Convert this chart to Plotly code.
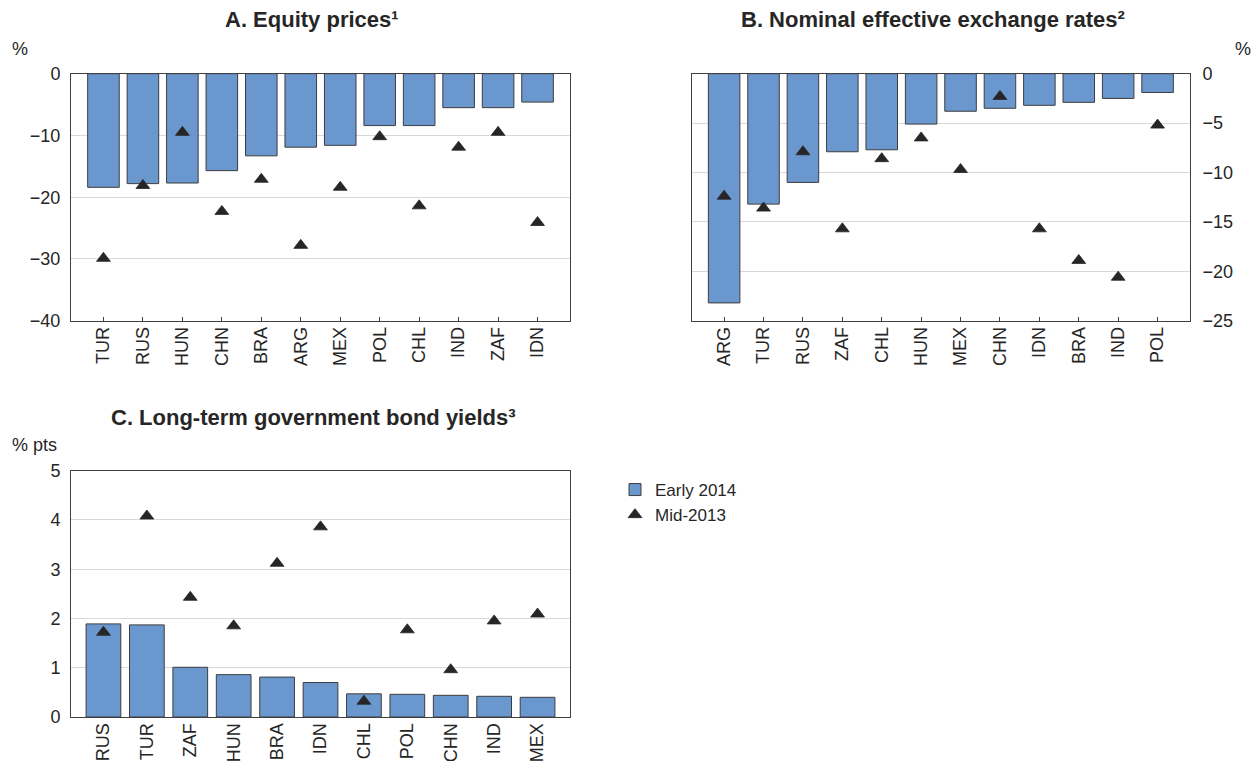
import plotly.graph_objects as go

# ---------------- data ----------------
A_cats = ['TUR', 'RUS', 'HUN', 'CHN', 'BRA', 'ARG', 'MEX', 'POL', 'CHL', 'IND', 'ZAF', 'IDN']
A_early = [-18.4, -17.8, -17.7, -15.7, -13.3, -11.9, -11.6, -8.4, -8.4, -5.5, -5.5, -4.6]
A_mid = [-29.9, -18.1, -9.5, -22.3, -17.1, -27.8, -18.4, -10.2, -21.4, -11.9, -9.5, -24.1]

B_cats = ['ARG', 'TUR', 'RUS', 'ZAF', 'CHL', 'HUN', 'MEX', 'CHN', 'IDN', 'BRA', 'IND', 'POL']
B_early = [-23.2, -13.2, -11.0, -7.9, -7.7, -5.1, -3.8, -3.5, -3.2, -2.9, -2.5, -1.9]
B_mid = [-12.4, -13.6, -7.9, -15.7, -8.6, -6.5, -9.7, -2.3, -15.7, -18.9, -20.6, -5.2]

C_cats = ['RUS', 'TUR', 'ZAF', 'HUN', 'BRA', 'IDN', 'CHL', 'POL', 'CHN', 'IND', 'MEX']
C_early = [1.89, 1.87, 1.01, 0.86, 0.81, 0.70, 0.47, 0.46, 0.44, 0.42, 0.40]
C_mid = [1.72, 4.08, 2.43, 1.85, 3.12, 3.86, 0.32, 1.77, 0.96, 1.95, 2.09]

titles = ['A. Equity prices¹', 'B. Nominal effective exchange rates²', 'C. Long-term government bond yields³']
units = ['%', '%', '% pts']
series_names = ['Early 2014', 'Mid-2013']

# ---------------- style ----------------
W, H = 1260, 761
FONT = 'Liberation Sans, Arial, Helvetica, sans-serif'
TXT = '#262626'
BAR = '#6b97cf'
EDGE = '#3d3d3d'
TRI = '#262626'
GRID = '#d9d9d9'


def px(x):
    return x / W


def py(y):
    return 1 - y / H


fig = go.Figure()

panels = [
    (A_cats, A_early, A_mid, 'x', 'y'),
    (B_cats, B_early, B_mid, 'x2', 'y2'),
    (C_cats, C_early, C_mid, 'x3', 'y3'),
]
for i, (cats, early, mid, xa, ya) in enumerate(panels):
    fig.add_trace(go.Bar(
        x=cats, y=early, xaxis=xa, yaxis=ya, name=series_names[0],
        marker=dict(color=BAR, line=dict(color=EDGE, width=1)),
        showlegend=(i == 0), legendgroup='early', hoverinfo='x+y'))
for i, (cats, early, mid, xa, ya) in enumerate(panels):
    fig.add_trace(go.Scatter(
        x=cats, y=mid, xaxis=xa, yaxis=ya, name=series_names[1], mode='markers',
        marker=dict(symbol='triangle-up', size=12, color=TRI, line=dict(color=TRI, width=0.8)),
        showlegend=(i == 0), legendgroup='mid', hoverinfo='x+y'))

xcommon = dict(type='category', showgrid=False, ticks='inside', ticklen=4, tickcolor='#404040',
               tickwidth=1, tickangle=-90, showline=True, linecolor='#404040', linewidth=1,
               mirror=True, zeroline=False, layer='below traces', automargin=False,
               tickfont=dict(family=FONT, size=18, color=TXT), ticklabelstandoff=-2)
ycommon = dict(showgrid=True, gridcolor=GRID, gridwidth=1, ticks='', showline=True,
               linecolor='#404040', linewidth=1, mirror=True, zeroline=False, automargin=False,
               layer='below traces', tickfont=dict(family=FONT, size=18, color=TXT))

A_x = [px(71), px(570)]
B_x = [px(691.7), px(1190)]
top_y = [py(320.7), py(73.7)]
C_y = [py(717), py(470.7)]

fig.update_layout(
    xaxis=dict(domain=A_x, anchor='y', **xcommon),
    yaxis=dict(domain=top_y, anchor='x', range=[-40, 0], dtick=10, side='left',
               ticklabelstandoff=6, **ycommon),
    xaxis2=dict(domain=B_x, anchor='y2', **xcommon),
    yaxis2=dict(domain=top_y, anchor='x2', range=[-25, 0], dtick=5, side='right',
                ticklabelstandoff=8, **ycommon),
    xaxis3=dict(domain=A_x, anchor='y3', **xcommon),
    yaxis3=dict(domain=C_y, anchor='x3', range=[0, 5], dtick=1, side='left',
                ticklabelstandoff=6, **ycommon),
    bargap=0.2,
    width=W, height=H,
    margin=dict(l=0, r=0, t=0, b=0, autoexpand=False),
    paper_bgcolor='white', plot_bgcolor='white',
    font=dict(family=FONT, color=TXT),
    showlegend=True,
    legend=dict(x=px(615), y=py(472), xanchor='left', yanchor='top',
                font=dict(family=FONT, size=17, color=TXT),
                bgcolor='rgba(0,0,0,0)', traceorder='normal', tracegroupgap=0),
)

ann = [
    (titles[0], 312, 20, 'center', 22, True),
    (titles[1], 933, 20, 'center', 22, True),
    (titles[2], 313.6, 417, 'center', 22, True),
    (units[0], 19.5, 49, 'center', 18, False),
    (units[1], 1243, 49, 'center', 18, False),
    (units[2], 34, 445, 'center', 18, False),
]
for text, x, y, xa, size, bold in ann:
    fig.add_annotation(
        text=f'<b>{text}</b>' if bold else text, x=px(x), y=py(y), xref='paper', yref='paper',
        xanchor=xa, yanchor='middle', showarrow=False,
        font=dict(family=FONT, size=size, color=TXT))

fig.write_html('out.html', config={'displayModeBar': False},
               post_script="document.body.style.margin='0';document.body.style.overflow='hidden';")
